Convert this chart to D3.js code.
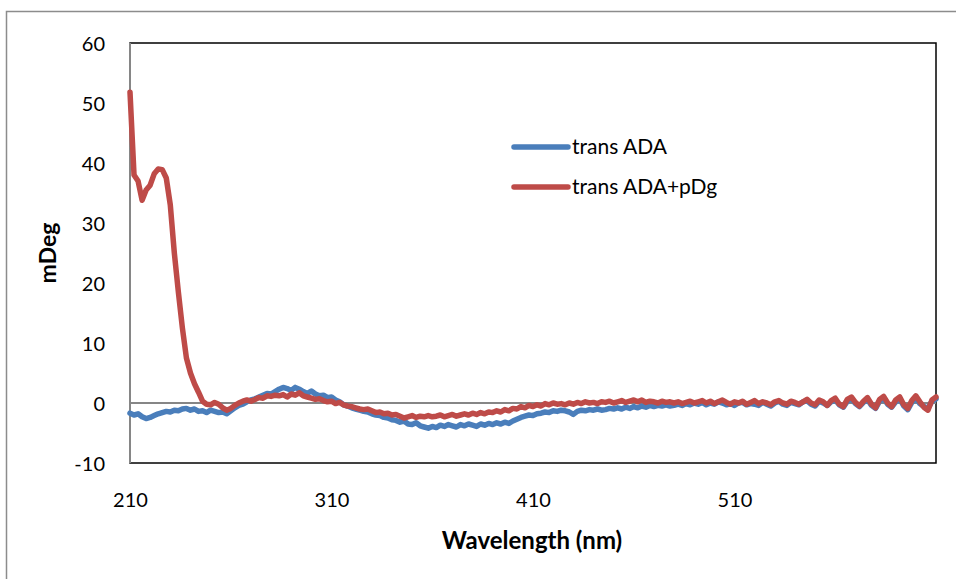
<!DOCTYPE html>
<html>
<head>
<meta charset="utf-8">
<script src="https://cdn.jsdelivr.net/npm/d3@7"></script>
<style>
  html, body { margin: 0; padding: 0; background: #fff; }
  svg { display: block; }
  text { font-family: Lato, "Open Sans", sans-serif; fill: #000; }
</style>
</head>
<body>
<svg id="chart" width="956" height="579"></svg>
<script>
// CD spectra, 2 nm sampling
const wavelengths = [
  210,212,214,216,218,220,222,224,226,228,230,232,234,236,238,240,242,244,246,248,
  250,252,254,256,258,260,262,264,266,268,270,272,274,276,278,280,282,284,286,288,
  290,292,294,296,298,300,302,304,306,308,310,312,314,316,318,320,322,324,326,328,
  330,332,334,336,338,340,342,344,346,348,350,352,354,356,358,360,362,364,366,368,
  370,372,374,376,378,380,382,384,386,388,390,392,394,396,398,400,402,404,406,408,
  410,412,414,416,418,420,422,424,426,428,430,432,434,436,438,440,442,444,446,448,
  450,452,454,456,458,460,462,464,466,468,470,472,474,476,478,480,482,484,486,488,
  490,492,494,496,498,500,502,504,506,508,510,512,514,516,518,520,522,524,526,528,
  530,532,534,536,538,540,542,544,546,548,550,552,554,556,558,560,562,564,566,568,
  570,572,574,576,578,580,582,584,586,588,590,592,594,596,598,600,602,604,606,608,
  610
];

const transADA = [
  -1.7,-2.0,-1.8,-2.3,-2.6,-2.4,-2.1,-1.8,-1.6,-1.4,-1.5,-1.2,-1.3,-1.0,-0.9,-1.2,-1.0,-1.4,-1.3,-1.6,
  -1.2,-1.4,-1.6,-1.5,-1.8,-1.3,-0.8,-0.4,-0.2,0.2,0.5,0.7,1.0,1.3,1.6,1.5,1.9,2.3,2.6,2.4,
  2.1,2.6,2.3,1.9,1.6,2.0,1.5,1.2,1.3,0.9,1.0,0.5,0.2,-0.3,-0.5,-0.8,-1.0,-1.2,-1.4,-1.5,
  -1.8,-2.0,-2.1,-2.4,-2.5,-2.8,-2.9,-3.2,-3.0,-3.5,-3.6,-3.3,-3.8,-4.0,-4.2,-3.9,-4.1,-3.7,-3.9,-3.6,
  -3.8,-4.0,-3.6,-3.8,-3.5,-3.7,-3.9,-3.5,-3.7,-3.4,-3.6,-3.3,-3.5,-3.2,-3.4,-3.0,-2.7,-2.4,-2.2,-2.0,
  -2.1,-1.8,-1.7,-1.5,-1.6,-1.3,-1.4,-1.2,-1.3,-1.5,-1.9,-1.4,-1.2,-1.3,-1.1,-1.2,-1.0,-1.2,-1.1,-0.9,
  -1.0,-0.8,-1.0,-0.7,-0.9,-0.6,-0.8,-0.5,-0.7,-0.4,-0.6,-0.4,-0.5,-0.3,-0.5,-0.4,-0.2,-0.4,-0.1,-0.3,
  0.0,-0.2,0.1,-0.3,0.0,-0.2,0.2,0.0,-0.3,-0.1,-0.4,0.0,0.1,-0.3,-0.1,-0.2,-0.4,0.1,-0.2,-0.5,
  0.0,0.3,-0.2,-0.4,0.1,-0.1,-0.3,0.2,0.4,-0.2,-0.5,0.3,0.0,-0.4,0.2,0.5,-0.3,-0.7,0.3,0.7,
  -0.1,-0.6,0.1,0.6,-0.4,-0.9,0.3,0.8,-0.2,-0.7,0.2,0.7,-0.5,-1.1,0.1,0.9,-0.1,-0.6,-0.9,0.3,
  0.7
];

const transADApDg = [
  51.8,38.0,37.0,33.8,35.5,36.3,38.2,39.0,38.9,37.5,33.0,25.0,18.5,12.5,7.5,5.0,3.2,1.8,0.3,-0.2,
  -0.3,0.1,-0.2,-0.8,-1.2,-0.9,-0.4,0.0,0.3,0.5,0.3,0.6,0.9,0.8,1.2,1.1,1.3,1.2,1.4,1.0,
  1.5,1.3,1.7,1.2,1.0,0.8,0.6,0.7,0.4,0.2,0.3,-0.1,0.1,-0.3,-0.5,-0.6,-0.8,-1.0,-1.1,-1.0,
  -1.3,-1.6,-1.5,-1.8,-1.7,-2.0,-1.9,-2.2,-2.5,-2.3,-2.1,-2.4,-2.2,-2.3,-2.1,-2.3,-2.2,-2.0,-2.3,-2.1,
  -1.9,-2.2,-2.0,-1.8,-2.0,-1.7,-1.9,-1.6,-1.8,-1.5,-1.6,-1.3,-1.5,-1.1,-1.3,-0.9,-1.0,-0.6,-0.8,-0.4,
  -0.6,-0.3,-0.5,-0.1,-0.3,0.0,-0.2,-0.1,-0.3,0.0,-0.2,0.1,-0.1,0.2,0.0,0.1,-0.1,0.2,0.1,0.3,
  0.0,0.2,0.4,0.1,0.3,0.5,0.2,0.5,0.1,0.3,0.2,0.0,0.3,0.1,0.2,0.0,0.2,-0.1,0.1,0.3,
  0.0,0.2,0.4,0.0,0.3,-0.1,0.2,0.5,0.1,-0.2,0.2,0.0,0.3,-0.2,0.1,0.4,-0.1,0.2,0.0,-0.3,
  0.2,0.4,0.0,-0.2,0.3,0.1,-0.2,0.2,0.6,0.0,-0.3,0.5,0.2,-0.4,0.4,0.8,-0.2,-0.6,0.6,1.0,
  0.1,-0.5,0.3,0.9,-0.2,-0.8,0.6,1.1,0.0,-0.6,0.5,1.0,-0.3,-0.9,0.4,1.2,0.2,-0.7,-1.2,0.5,
  1.0
];

const seriesNames = ["trans ADA", "trans ADA+pDg"];
const seriesColors = ["#4a7ebb", "#be4b48"];
const xTicks = [210, 310, 410, 510];
const yTicks = [-10, 0, 10, 20, 30, 40, 50, 60];

const svg = d3.select("#chart");
const plot = { left: 130, right: 936, top: 43, bottom: 463 };
const labelFont = "Lato, 'Open Sans', sans-serif";

// outer chart frame (runs off the bottom/right edge)
svg.append("path")
  .attr("d", "M6.5,579 V11.5 H956")
  .attr("fill", "none")
  .attr("stroke", "#8c8c8c")
  .attr("stroke-width", 1.5);

const x = d3.scaleLinear().domain([210, 610]).range([plot.left, plot.right]);
const y = d3.scaleLinear().domain([-10, 60]).range([plot.bottom, plot.top]);

// plot area border
svg.append("rect")
  .attr("x", plot.left).attr("y", plot.top)
  .attr("width", plot.right - plot.left).attr("height", plot.bottom - plot.top)
  .attr("fill", "none").attr("stroke", "#000").attr("stroke-width", 1.5);

// value axis line
svg.append("line")
  .attr("x1", plot.left).attr("x2", plot.left)
  .attr("y1", plot.top).attr("y2", plot.bottom)
  .attr("stroke", "#868686").attr("stroke-width", 2);

// zero line (category axis crosses at 0)
svg.append("line")
  .attr("x1", plot.left).attr("x2", plot.right)
  .attr("y1", y(0)).attr("y2", y(0))
  .attr("stroke", "#868686").attr("stroke-width", 2);

// y axis labels (plain hyphen for negatives)
const yAxis = d3.axisLeft(y).tickValues(yTicks).tickSize(0).tickPadding(25)
  .tickFormat(d => String(d));
const gy = svg.append("g").attr("transform", `translate(${plot.left},0)`).call(yAxis);
gy.select(".domain").remove();
gy.selectAll("text").style("font-size", "20px").attr("dy", "0.35em")
  .style("font-family", labelFont);

// x axis labels along the bottom of the plot
const xAxis = d3.axisBottom(x).tickValues(xTicks).tickSize(0).tickPadding(30)
  .tickFormat(d => String(d));
const gx = svg.append("g").attr("transform", `translate(0,${plot.bottom})`).call(xAxis);
gx.select(".domain").remove();
gx.selectAll("text").style("font-size", "20px")
  .style("font-family", labelFont);

// axis titles
svg.append("text")
  .attr("transform", `translate(56,${(plot.top + plot.bottom) / 2}) rotate(-90)`)
  .attr("text-anchor", "middle")
  .style("font-size", "23px").style("font-weight", "bold")
  .text("mDeg");

svg.append("text")
  .attr("x", (plot.left + plot.right) / 2 - 1).attr("y", 549)
  .attr("text-anchor", "middle")
  .style("font-size", "24px").style("font-weight", "bold")
  .text("Wavelength (nm)");

// spectra
const seriesData = [transADA, transADApDg];
const line = d3.line()
  .x((d, i) => x(wavelengths[i]))
  .y(d => y(d));

seriesData.forEach((vals, k) => {
  svg.append("path")
    .datum(vals)
    .attr("d", line)
    .attr("fill", "none")
    .attr("stroke", seriesColors[k])
    .attr("stroke-width", 5.5)
    .attr("stroke-linejoin", "round")
    .attr("stroke-linecap", "round");
});

// legend
const legend = svg.append("g").attr("transform", "translate(514,147)");
seriesNames.forEach((name, k) => {
  const g = legend.append("g").attr("transform", `translate(0,${k * 40})`);
  g.append("line")
    .attr("x1", 0).attr("x2", 54).attr("y1", 0).attr("y2", 0)
    .attr("stroke", seriesColors[k]).attr("stroke-width", 5.5)
    .attr("stroke-linecap", "round");
  g.append("text")
    .attr("x", 58).attr("y", 0).attr("dy", "0.35em")
    .style("font-size", "21px")
    .text(name);
});
</script>
</body>
</html>
